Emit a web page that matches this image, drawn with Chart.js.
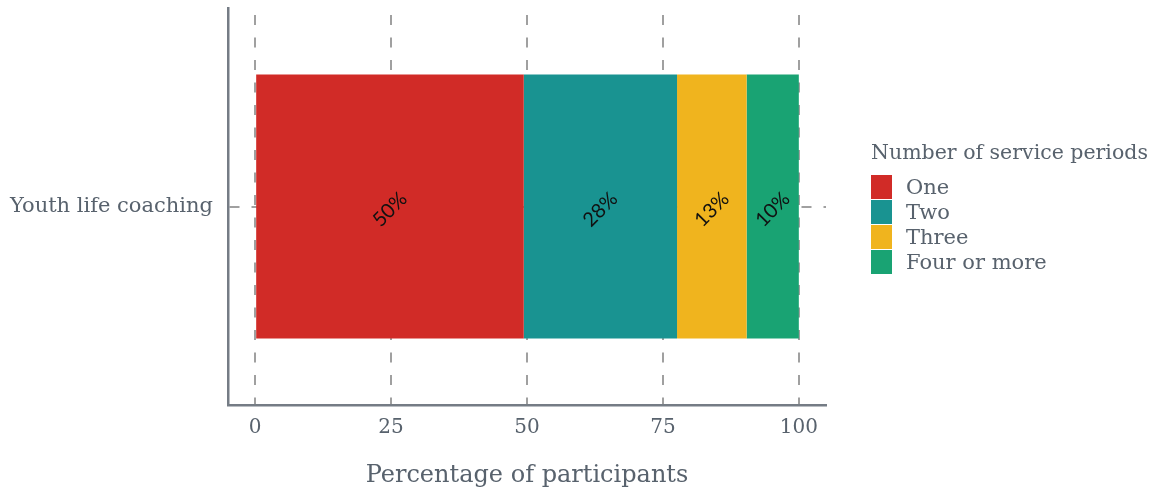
<!DOCTYPE html>
<html lang="en">
<head>
    <meta charset="UTF-8">
    <title>Number of service periods</title>
    <script src="https://cdn.jsdelivr.net/npm/chart.js@4"></script>
    <style>
        body { margin: 0; background: #fff; }
        #wrap { position: relative; width: 1159px; height: 494px; }
        #legend {
            position: absolute;
            left: 871px;
            top: 139px;
            font-family: "DejaVu Serif", serif;
            color: #58626d;
        }
        #legend .title { font-size: 20.5px; line-height: 26px; margin-bottom: 9px; }
        #legend .item { display: flex; align-items: center; height: 25px; font-size: 21px; }
        #legend .box { width: 21px; height: 24px; margin-right: 14px; }
    </style>
</head>
<body>
    <div id="wrap">
        <canvas id="chart"></canvas>
        <div id="legend"></div>
    </div>

    <script>
        const categories = ['Youth life coaching'];
        const seriesNames = ['One', 'Two', 'Three', 'Four or more'];
        const seriesValues = [[49.4], [28.2], [12.8], [9.6]];
        const valueLabels = ['50%', '28%', '13%', '10%'];
        const xTicks = [0, 25, 50, 75, 100];
        const legendTitle = 'Number of service periods';
        const xTitle = 'Percentage of participants';

        const colors = ['#d12b27', '#199391', '#f0b41e', '#19a373'];
        const textColor = '#58626d';
        const gridColor = '#a0a0a0';
        const axisColor = '#757c85';

        // rotated value labels in the middle of each segment
        const segmentLabels = {
            id: 'segmentLabels',
            afterDatasetsDraw(chart) {
                const ctx = chart.ctx;
                ctx.save();
                ctx.font = '20px Lato, sans-serif';
                ctx.fillStyle = '#111';
                ctx.textAlign = 'center';
                ctx.textBaseline = 'middle';
                chart.data.datasets.forEach((ds, i) => {
                    chart.getDatasetMeta(i).data.forEach(bar => {
                        const p = bar.getCenterPoint();
                        ctx.save();
                        ctx.translate(p.x, p.y + 3);
                        ctx.rotate(-Math.PI / 4);
                        ctx.fillText(valueLabels[i], 0, 0);
                        ctx.restore();
                    });
                });
                ctx.restore();
            }
        };

        new Chart(document.getElementById('chart'), {
            type: 'bar',
            data: {
                labels: categories,
                datasets: seriesNames.map((name, i) => ({
                    label: name,
                    data: seriesValues[i],
                    backgroundColor: colors[i],
                    borderWidth: 0,
                    categoryPercentage: 1,
                    barPercentage: 0.665
                }))
            },
            options: {
                indexAxis: 'y',
                responsive: true,
                maintainAspectRatio: false,
                animation: false,
                layout: { padding: { left: 0, right: 333, top: 8, bottom: 0 } },
                plugins: {
                    legend: { display: false },
                    tooltip: { enabled: false }
                },
                scales: {
                    x: {
                        stacked: true,
                        min: -5,
                        max: 105,
                        afterBuildTicks: scale => { scale.ticks = xTicks.map(v => ({ value: v })); },
                        afterFit: scale => {
                            scale.height = 89;
                            scale.paddingLeft = 0;
                            scale.paddingRight = 0;
                        },
                        grid: { color: gridColor, lineWidth: 2, drawTicks: false },
                        border: { color: axisColor, width: 2.5, dash: [10, 12.5], dashOffset: 15.5 },
                        ticks: {
                            color: textColor,
                            padding: 11,
                            font: { family: 'DejaVu Serif', size: 20 }
                        },
                        title: {
                            display: true,
                            text: xTitle,
                            color: textColor,
                            padding: { top: 0, bottom: 4 },
                            font: { family: 'DejaVu Serif', size: 24 }
                        }
                    },
                    y: {
                        stacked: true,
                        afterFit: scale => {
                            scale.width = 228;
                            scale.paddingTop = 0;
                            scale.paddingBottom = 0;
                        },
                        grid: { color: gridColor, lineWidth: 2, drawTicks: false, offset: false },
                        border: { color: axisColor, width: 2.5, dash: [10, 12] },
                        ticks: {
                            color: textColor,
                            padding: 15,
                            font: { family: 'DejaVu Serif', size: 21 }
                        }
                    }
                }
            },
            plugins: [segmentLabels]
        });

        // legend
        const legend = document.getElementById('legend');
        legend.innerHTML = '<div class="title">' + legendTitle + '</div>' +
            seriesNames.map((name, i) =>
                '<div class="item"><span class="box" style="background:' + colors[i] + '"></span>' + name + '</div>'
            ).join('');
    </script>
</body>
</html>
